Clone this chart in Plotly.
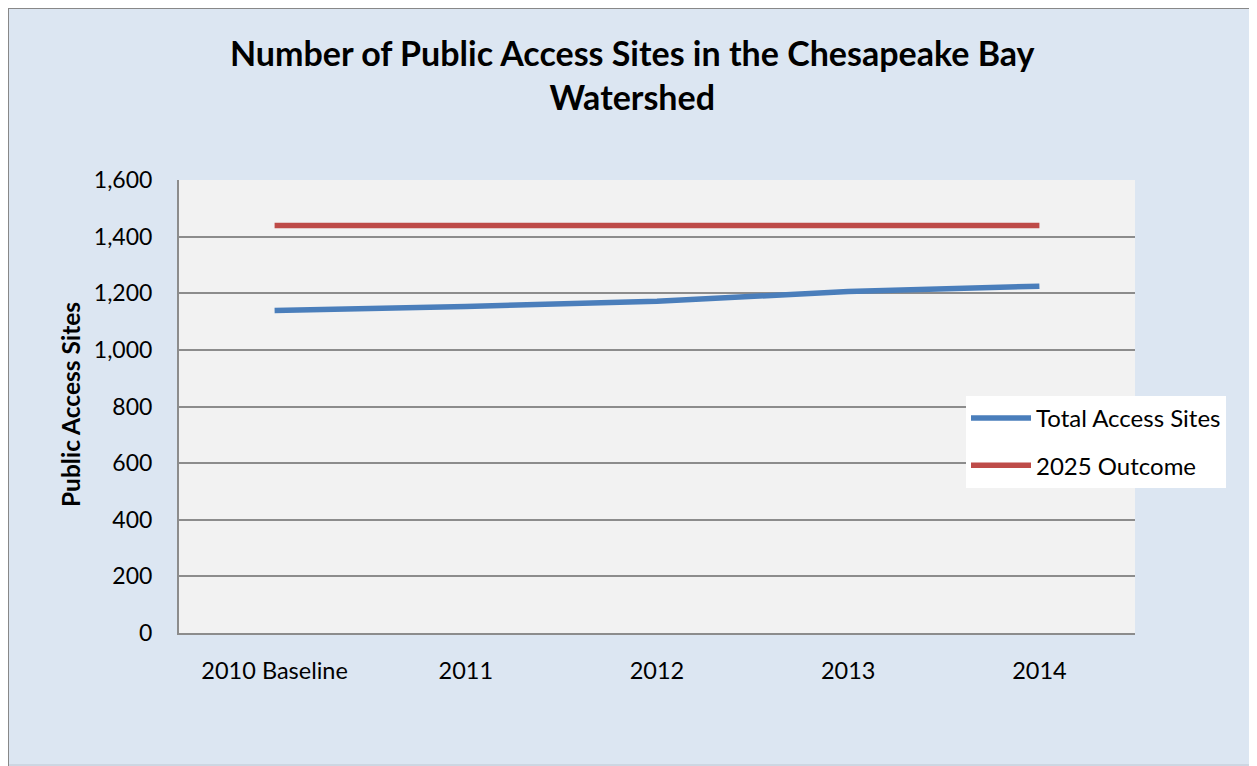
import plotly.graph_objects as go

categories = ["2010 Baseline", "2011", "2012", "2013", "2014"]
total_access_sites = [1139, 1153, 1172, 1206, 1225]
outcome_2025 = [1439, 1439, 1439, 1439, 1439]
y_ticks = [0, 200, 400, 600, 800, 1000, 1200, 1400, 1600]
y_tick_labels = ["0", "200", "400", "600", "800", "1,000", "1,200", "1,400", "1,600"]

# page is rendered with an 8px body margin: figure coords = page coords - 8
OFF = 8
W, H = 1257 - OFF, 766 - OFF
L, R, T, B = 179 - OFF, 1135 - OFF, 180 - OFF, 633 - OFF

def px(x):
    return (x - OFF - L) / (R - L)

def py(y):
    return (B - (y - OFF)) / (B - T)

FONT = "Lato"

fig = go.Figure()
fig.add_trace(go.Scatter(x=categories, y=total_access_sites, mode="lines",
                         name="Total Access Sites", legendgroup="a",
                         line=dict(color="#4A7EBB", width=5.5)))
fig.add_trace(go.Scatter(x=categories, y=outcome_2025, mode="lines",
                         name="2025 Outcome", legendgroup="b",
                         line=dict(color="#BE4B48", width=5.5)))

border = "#888888"
fig.update_layout(
    width=W, height=H,
    margin=dict(l=L, r=W - R, t=T, b=H - B),
    paper_bgcolor="#DCE6F2",
    plot_bgcolor="#F2F2F2",
    font=dict(family=FONT, color="#000000", size=23),
    showlegend=True,
    legend=dict(x=px(966), y=py(396), xanchor="left", yanchor="top",
                bgcolor="#FFFFFF", borderwidth=0, itemwidth=60,
                font=dict(family=FONT, size=24, color="#000000"),
                traceorder="grouped", tracegroupgap=13),
    xaxis=dict(type="category", range=[-0.5, 4.5], showgrid=False,
               showline=True, linecolor="#8C8C8C", linewidth=2,
               ticks="", ticklabelstandoff=16,
               tickfont=dict(family=FONT, size=23.5)),
    yaxis=dict(range=[0, 1600], tickvals=y_ticks, ticktext=y_tick_labels,
               showgrid=True, gridcolor="#8C8C8C", gridwidth=2,
               zeroline=False, showline=True, linecolor="#8C8C8C", linewidth=2,
               ticks="", ticklabelstandoff=20,
               tickfont=dict(family=FONT, size=23)),
    annotations=[
        dict(text="<b>Number of Public Access Sites in the Chesapeake Bay<br>Watershed</b>",
             xref="paper", yref="paper", x=px(632), y=py(74.5),
             xanchor="center", yanchor="middle", showarrow=False,
             font=dict(family=FONT, size=34, color="#000000")),
        dict(text="<b>Public Access Sites</b>", textangle=-90,
             xref="paper", yref="paper", x=px(70), y=py(405),
             xanchor="center", yanchor="middle", showarrow=False,
             font=dict(family=FONT, size=24.5, color="#000000")),
    ],
    shapes=[
        dict(type="line", xref="paper", yref="paper",
             x0=px(8), x1=px(8), y0=py(766), y1=py(7),
             line=dict(color=border, width=2), layer="below"),
        dict(type="line", xref="paper", yref="paper",
             x0=px(7), x1=px(1257), y0=py(8), y1=py(8),
             line=dict(color=border, width=2), layer="below"),
        dict(type="line", xref="paper", yref="paper",
             x0=px(9), x1=px(1257), y0=py(765), y1=py(765),
             line=dict(color="#C9D1DC", width=1.5), layer="below"),
    ],
)

fig.write_html("out.html")
